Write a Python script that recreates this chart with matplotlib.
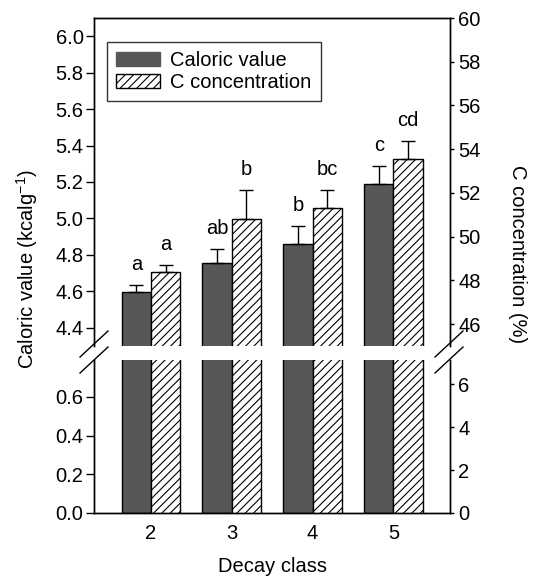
import matplotlib
matplotlib.use("Agg")
import matplotlib.pyplot as plt
import numpy as np
from matplotlib.patches import Patch

plt.rcParams['font.family'] = ['Liberation Sans', 'DejaVu Sans']
plt.rcParams['mathtext.fontset'] = 'custom'
plt.rcParams['mathtext.rm'] = 'Liberation Sans'
plt.rcParams['mathtext.it'] = 'Liberation Sans:italic'
plt.rcParams['hatch.linewidth'] = 0.8

classes = [2, 3, 4, 5]
caloric = [4.595, 4.755, 4.86, 5.19]
caloric_err = [0.04, 0.08, 0.10, 0.10]
caloric_letters = ['a', 'ab', 'b', 'c']
carbon = [48.37, 50.83, 51.32, 53.53]
carbon_err = [0.35, 1.32, 0.83, 0.86]
carbon_letters = ['a', 'b', 'bc', 'cd']

left_upper_ticks = [4.4, 4.6, 4.8, 5.0, 5.2, 5.4, 5.6, 5.8, 6.0]
left_lower_ticks = [0.0, 0.2, 0.4, 0.6]
right_upper_ticks = [46, 48, 50, 52, 54, 56, 58, 60]
right_lower_ticks = [0, 2, 4, 6]

W, H = 538, 577
fig = plt.figure(figsize=(W / 100, H / 100), dpi=100)

def rect(x0, y0, x1, y1):
    return [x0 / W, 1 - y1 / H, (x1 - x0) / W, (y1 - y0) / H]

ax_u = fig.add_axes(rect(94, 18, 450, 346))
ax_l = fig.add_axes(rect(94, 360, 450, 513))
ax_ur = ax_u.twinx()
ax_lr = ax_l.twinx()

x = np.array(classes, dtype=float)
w = 0.363
dark = '#575757'
fs = 14.5

for a in (ax_u, ax_l):
    a.bar(x - w / 2, caloric, w, color=dark, edgecolor='black', linewidth=1.0, zorder=2)
for a in (ax_ur, ax_lr):
    a.bar(x + w / 2, carbon, w, color='white', edgecolor='black', linewidth=1.0,
          hatch='////', zorder=2)

ax_u.errorbar(x - w / 2, caloric, yerr=[np.zeros(4), caloric_err], fmt='none',
              ecolor='black', elinewidth=1.0, capsize=5, capthick=1.0, zorder=3)
ax_ur.errorbar(x + w / 2, carbon, yerr=[np.zeros(4), carbon_err], fmt='none',
               ecolor='black', elinewidth=1.0, capsize=5, capthick=1.0, zorder=3)

for xi, v, e, t in zip(x - w / 2, caloric, caloric_err, caloric_letters):
    ax_u.annotate(t, (xi, v + e), xytext=(0, 10.5), textcoords='offset points',
                  ha='center', va='baseline', fontsize=fs)
for xi, v, e, t in zip(x + w / 2, carbon, carbon_err, carbon_letters):
    ax_ur.annotate(t, (xi, v + e), xytext=(0, 10.5), textcoords='offset points',
                   ha='center', va='baseline', fontsize=fs)

for a in (ax_u, ax_l, ax_ur, ax_lr):
    a.set_xlim(1.295, 5.70)

ax_u.set_ylim(4.3, 6.1)
ax_ur.set_ylim(45, 60)
ax_l.set_ylim(0, 0.79)
ax_lr.set_ylim(0, 7.14)

ax_u.set_yticks(left_upper_ticks)
ax_u.set_yticklabels([f'{v:.1f}' for v in left_upper_ticks])
ax_l.set_yticks(left_lower_ticks)
ax_l.set_yticklabels([f'{v:.1f}' for v in left_lower_ticks])
ax_ur.set_yticks(right_upper_ticks)
ax_lr.set_yticks(right_lower_ticks)

ax_l.set_xticks(classes)
ax_l.set_xticklabels([str(c) for c in classes])
ax_u.tick_params(axis='x', bottom=False, labelbottom=False)
ax_ur.tick_params(axis='x', bottom=False, labelbottom=False)
ax_lr.tick_params(axis='x', bottom=False, labelbottom=False)

for a in (ax_u, ax_l):
    a.tick_params(axis='y', direction='out', length=5.5, width=1, labelsize=fs, pad=2)
for a in (ax_ur, ax_lr):
    a.tick_params(axis='y', direction='out', length=3, width=1, labelsize=fs, pad=3)
ax_l.tick_params(axis='x', length=0, labelsize=fs, pad=8)

for a in (ax_u, ax_ur):
    a.spines['bottom'].set_visible(False)
    for s in a.spines.values():
        s.set_linewidth(1.0)
for a in (ax_l, ax_lr):
    a.spines['top'].set_visible(False)
    for s in a.spines.values():
        s.set_linewidth(1.0)

# break marks
def brk(xp):
    for dy in (0, 16):
        fig.add_artist(plt.Line2D([(xp - 14) / W, (xp + 14) / W],
                                  [1 - (357 + dy) / H, 1 - (331 + dy) / H],
                                  color='black', linewidth=1.0))
brk(94)
brk(449)

fig.text(272 / W, 1 - 566 / H, 'Decay class', ha='center', va='center', fontsize=fs)
fig.text(27 / W, 1 - 269 / H, 'Caloric value (kcalg$^{-1}$)', rotation=90,
         ha='center', va='center', fontsize=fs)
fig.text(518 / W, 1 - 254 / H, 'C concentration (%)', rotation=270,
         ha='center', va='center', fontsize=fs)

handles = [Patch(facecolor=dark, edgecolor=dark, label='Caloric value'),
           Patch(facecolor='white', edgecolor='black', hatch='////', label='C concentration')]
leg = ax_ur.legend(handles=handles, loc='upper left',
                   bbox_to_anchor=((107 - 94) / (450 - 94), 1 - (41.7 - 18) / (346 - 18)),
                   fontsize=fs, frameon=True, fancybox=False, edgecolor='black',
                   handlelength=2.2, handleheight=0.7, handletextpad=0.5,
                   borderpad=0.45, labelspacing=0.15, borderaxespad=0)
leg.get_frame().set_linewidth(1.0)

fig.savefig('out.png', dpi=100)
